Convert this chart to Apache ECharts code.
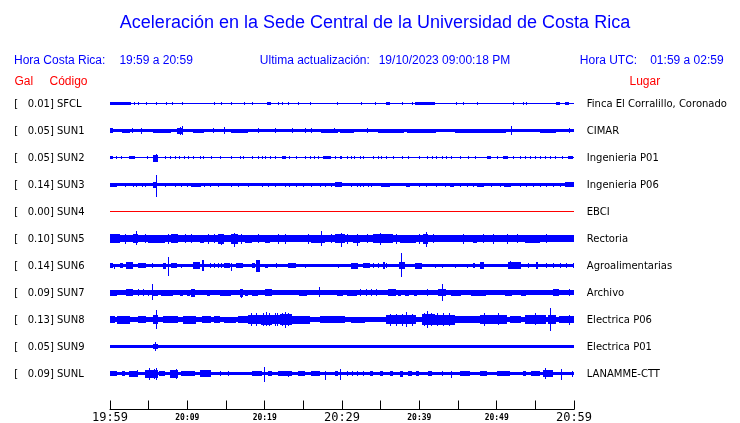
<!DOCTYPE html>
<html><head><meta charset="utf-8">
<script src="https://cdn.jsdelivr.net/npm/echarts@6/dist/echarts.min.js"></script>
<style>html,body{margin:0;padding:0;background:#fff}#c{width:740px;height:423px}</style>
</head><body><div id="c"></div>
<script>
// ---------------- DATA ----------------
const codes  = ['SFCL','SUN1','SUN2','SUN3','SUN4','SUN5','SUN6','SUN7','SUN8','SUN9','SUNL'];
const gal    = ['0.01','0.05','0.05','0.14','0.00','0.10','0.14','0.09','0.13','0.05','0.09'];
const places = ['Finca El Corralillo, Coronado','CIMAR','Ingenieria P01','Ingenieria P06','EBCI','Rectoria',
                'Agroalimentarias','Archivo','Electrica P06','Electrica P01','LANAMME-CTT'];
const timeLabels = ['19:59','20:09','20:19','20:29','20:39','20:49','20:59']; // every 10 min from 19:59
// background (noise) half-amplitude of each trace
const baseAmp = [0.65, 1.2, 0.65, 1.3, 0.5, 3.2, 1.5, 2.2, 2.7, 1.3, 1.5];
// events: [startMinute, endMinute, amplitudeUp, amplitudeDown]  (minutes after 19:59)
const evSFCL = [[0,2.7,1.5,1.5],[3.1,3.1,1.7,1.7],[3.6,3.6,1.7,1.7],[4.6,4.6,1.7,1.7],[5.9,5.9,1.7,1.7],[7.2,7.2,1.7,1.7],[8.0,8.0,1.7,1.7],[9.3,9.3,1.7,1.7],[13.4,13.4,1.7,1.7],[14.3,14.3,1.7,1.7],[15.7,15.7,1.7,1.7],[17.3,17.3,1.7,1.7],[18.4,18.4,1.7,1.7],[20.3,20.8,1.7,1.7],[21.7,21.7,1.7,1.7],[22.3,22.3,1.7,1.7],[23.0,23.0,1.7,1.7],[24.3,24.3,1.7,1.7],[25.9,25.9,1.7,1.7],[29.4,29.4,1.7,1.7],[32.5,32.5,1.7,1.7],[34.3,34.3,1.7,1.7],[35.7,36.2,1.7,1.7],[37.7,37.7,1.7,1.7],[39.0,39.0,1.7,1.7],[39.5,42.0,1.5,1.5],[44.8,44.8,1.7,1.7],[45.6,45.6,1.7,1.7],[47.4,47.4,1.7,1.7],[52.1,52.1,1.7,1.7],[53.4,53.4,1.7,1.7],[53.8,53.8,1.7,1.7],[57.7,58.2,1.7,1.7],[58.9,59.3,1.7,1.7]];
const evSUN1 = [[0,0.4,2.3,2.3],[1.5,2.6,2,2],[2.9,2.9,2.3,2.3],[4.0,4.0,2.7,3.7],[5.6,7.9,2,2],[8.7,9.5,3,3],[9.0,9.0,4,4.7],[9.3,9.3,4.3,4.3],[10.7,12.2,2,2],[13.3,13.3,2.5,2.5],[14.8,14.8,3.3,3.3],[15.7,17.8,2,2],[19.1,19.1,2.3,2.3],[21.3,21.3,2.3,2.3],[23.5,23.5,2.3,2.3],[25.2,25.2,2.3,2.3],[26.0,26.0,2.3,2.3],[27.3,29.5,2,2],[29.0,29.0,2.7,2.7],[29.7,31.6,2,2],[33.2,33.2,2.7,2.7],[34.6,38.0,2,2],[38.4,42.2,2,2],[44.6,51.2,2,2],[51.8,51.8,4.3,4.7],[55.6,57.7,2,2],[59.4,59.4,2.3,2.3]];
const evSUN2 = [[0,0.4,1.5,1.5],[0.8,0.8,1.7,1.7],[1.4,1.4,1.7,1.7],[2.5,3.2,1.5,1.5],[4.8,4.8,1.7,1.7],[5.6,6.2,2.7,4],[6.0,6.0,3.3,4.3],[7.1,7.1,1.7,1.7],[7.7,7.7,1.7,1.7],[8.4,8.4,1.7,1.7],[8.9,8.9,1.7,1.7],[9.6,9.6,1.7,1.7],[10.1,10.1,1.7,1.7],[10.7,10.7,1.7,1.7],[11.6,11.6,1.7,1.7],[12.0,12.0,1.7,1.7],[13.1,13.1,1.7,1.7],[14.2,14.2,1.7,1.7],[15.7,15.7,1.7,1.7],[16.8,16.8,1.7,1.7],[17.2,17.2,1.7,1.7],[18.3,18.3,1.7,1.7],[19.1,19.1,1.7,1.7],[19.6,19.6,1.7,1.7],[20.0,20.0,1.7,1.7],[20.7,20.7,1.7,1.7],[21.3,21.3,1.7,1.7],[22.2,22.8,1.5,1.5],[23.2,23.2,1.7,1.7],[24.1,24.1,1.7,1.7],[25.2,25.2,1.7,1.7],[25.9,25.9,1.7,1.7],[26.4,26.4,1.7,1.7],[26.9,26.9,1.7,1.7],[27.5,28.6,1.5,1.5],[29.1,29.1,1.7,1.7],[29.7,29.7,1.7,1.7],[29.9,29.9,1.7,1.7],[30.6,30.6,1.7,1.7],[31.2,31.2,1.7,1.7],[31.6,31.6,1.7,1.7],[32.3,32.3,1.7,1.7],[32.7,32.7,1.7,1.7],[34.0,34.0,1.7,1.7],[34.7,34.7,1.7,1.7],[35.1,35.1,1.7,1.7],[35.7,35.7,1.7,1.7],[36.6,36.6,1.7,1.7],[37.7,37.7,1.7,1.7],[38.5,38.5,1.7,1.7],[40.0,40.0,1.7,1.7],[41.0,41.0,1.7,1.7],[41.6,41.6,1.7,1.7],[42.2,42.2,1.7,1.7],[42.9,42.9,1.7,1.7],[43.5,43.5,1.7,1.7],[44.1,44.1,1.7,1.7],[45.2,45.2,1.7,1.7],[46.3,46.3,1.7,1.7],[47.2,47.2,1.7,1.7],[48.7,49.3,1.5,1.5],[50.0,50.0,1.7,1.7],[50.8,51.5,1.5,1.5],[52.1,52.1,1.7,1.7],[53.0,53.0,1.7,1.7],[53.6,53.6,1.7,1.7],[54.3,54.3,1.7,1.7],[54.9,54.9,1.7,1.7],[55.6,55.6,1.7,1.7],[56.2,56.2,1.7,1.7],[56.9,56.9,1.7,1.7],[57.5,57.5,1.7,1.7],[58.4,58.4,1.7,1.7],[59.2,59.9,1.5,1.5]];
const evSUN3 = [[0,0.9,2,2],[1.9,1.9,2,2.3],[3.0,3.0,2,2.3],[3.4,3.4,2,2.3],[4.1,4.1,2,2.3],[4.5,4.5,2,2.3],[5.6,6.1,3,3],[5.9,5.9,9.3,12.3],[7.1,7.1,2,2.3],[8.4,8.4,2,2.3],[9.2,9.2,2,2.3],[9.9,9.9,2,2.3],[10.5,11.8,2,2],[12.2,12.2,2,2.3],[12.9,12.9,2,2.3],[14.0,14.0,2,2.3],[15.7,15.7,2,2.3],[16.6,16.6,2,2.3],[17.8,17.8,2,2.3],[19.6,19.6,2,2.3],[20.4,20.4,2,2.3],[21.3,21.3,2,2.3],[22.6,22.6,2,2.3],[23.2,23.2,2,2.3],[24.1,24.1,2,2.3],[25.0,25.0,2,2.3],[26.0,26.0,2,2.3],[27.1,27.1,2,2.3],[27.8,27.8,2,2.3],[28.6,28.6,2,2.3],[29.1,30.0,2.5,2.5],[31.2,31.2,2,2.3],[31.9,31.9,2,2.3],[32.3,32.3,2,2.3],[32.7,32.7,2,2.3],[33.4,33.4,2,2.3],[33.8,33.8,2,2.3],[35.1,36.2,2,2],[38.3,38.8,2,2],[40.0,40.0,2,2.3],[40.9,40.9,2,2.3],[42.2,42.2,2,2.3],[43.3,43.3,2,2.3],[44.0,44.5,2,2],[45.2,45.2,2,2.3],[46.1,46.1,2,2.3],[46.9,46.9,2,2.3],[47.5,48.3,2,2],[49.3,49.3,2,2.3],[50.4,50.4,2,2.3],[51.0,51.9,2,2],[53.0,53.0,2,2.3],[53.8,53.8,2,2.3],[54.7,54.7,2,2.3],[55.6,55.6,2,2.3],[56.4,56.4,2,2.3],[57.3,57.3,2,2.3],[58.2,58.2,2,2.3],[58.9,60,2.5,2.5]];
const evSUN4 = [];
const evSUN5 = [[0,1.3,4.5,4.5],[1.9,1.9,4.5,5],[3.0,3.6,4.5,4.5],[3.3,3.3,8,6.3],[4.5,4.5,5,4.5],[4.9,7.1,4,4],[7.5,7.5,4.5,5.5],[7.9,8.8,4.5,4.5],[9.7,9.7,5,4.5],[10.5,10.5,4.5,4.5],[11.6,12.2,4,4],[12.7,12.7,4.5,5],[13.5,13.5,5,4.5],[14.0,14.8,4.5,5],[14.4,14.4,5,6.3],[15.6,16.5,5,5.5],[16.0,16.0,6,8.7],[17.0,17.0,4.5,5.5],[17.4,18.3,4,4],[19.1,19.1,5,4.5],[20.0,20.7,4,4],[21.7,21.7,4.5,5],[22.6,22.6,5,5],[23.5,25.2,3.8,3.8],[25.6,25.6,4.5,5],[26.0,27.8,4,4],[27.3,27.3,7.3,7.7],[28.6,28.6,5,4.5],[29.1,30.4,4.5,4.5],[29.9,29.9,6,8],[30.6,30.6,4.5,5],[31.4,32.3,4,4],[31.9,31.9,5,7.3],[33.2,33.2,5,4.5],[34.0,36.6,4.3,4.3],[34.9,34.9,6,6],[37.0,37.0,4.5,5],[37.5,39.6,4,4],[40.0,40.0,5,5],[40.5,41.1,4.5,5],[40.8,40.8,6.7,8.7],[41.8,41.8,4.5,4.5],[42.6,44.8,3.5,3.5],[45.6,45.6,4.5,5],[46.9,47.4,4,4],[48.2,48.2,4.5,4.5],[49.5,49.5,5,5],[51.3,51.3,4.5,5],[52.6,52.6,4.5,4.5],[53.6,55.6,4,4],[56.4,56.4,5,4.5],[57.3,59.9,3.6,3.6]];
const evSUN6 = [[0,0.4,2.5,2.5],[0.5,0.5,1.7,3.3],[1.3,1.7,2.5,2.5],[2.1,3.0,3.3,3.7],[3.6,4.7,2.5,2.5],[5.4,5.4,2.5,2.5],[6.9,7.3,3,3],[7.5,7.5,8.3,10],[7.9,8.6,2.5,2.5],[9.2,9.2,2,2],[10.7,11.6,3.3,3.3],[11.9,12.2,5.3,5.7],[12.9,12.9,2.5,2.5],[13.5,13.5,2.5,2.5],[14.0,14.0,2.5,2.5],[14.4,14.4,2.5,2.5],[14.8,15.5,2.5,2.5],[15.7,15.7,3,5],[16.3,17.2,2.3,2.3],[18.3,18.7,2.5,2.5],[18.9,19.4,5.3,6.7],[20.0,20.4,2,2],[21.5,21.5,2.5,2.5],[23.0,24.1,2.5,2.5],[25.2,25.2,2,2],[29.5,29.5,2,2],[31.2,32.1,3,3],[32.7,33.6,2.5,2.5],[34.0,34.0,2.5,2.5],[34.7,34.7,2.5,2.5],[35.3,35.5,4,3.3],[35.7,35.7,2.5,2.5],[37.4,38.1,3.5,3.5],[37.6,37.6,12.3,11],[39.4,40.3,3,3],[42.0,42.0,2,2],[42.9,42.9,2,2],[44.6,44.6,2,2],[46.1,46.1,2,2],[46.9,47.2,2.5,2.5],[47.8,48.4,3.3,3.3],[51.5,53.2,3.3,3.3],[51.7,51.7,5,3],[54.1,54.1,2.5,2.5],[55.1,55.4,3.3,3.3],[56.4,56.4,2.5,2.5],[57.3,57.3,2.5,2.5],[58.2,58.2,2.5,2.5],[59.0,59.0,2.5,2.5],[59.9,59.9,2.5,2.5]];
const evSUN7 = [[0,0.9,3,3],[1.0,2.1,2.8,2.8],[2.1,3.0,3.3,3.3],[3.6,3.6,3.3,3.3],[4.3,4.3,3.3,3.3],[4.9,5.1,3,3],[5.4,5.4,8.3,7],[5.6,6.2,3,3],[6.6,8.1,3,3],[9.0,9.5,3,3],[10.0,10.3,3,3],[10.5,11.0,3.5,4],[11.6,12.2,2.8,2.8],[12.5,12.9,3,3],[14.2,15.7,3,3],[16.8,17.2,3.5,4.5],[16.9,16.9,4,5.3],[17.5,17.8,3,3],[18.3,19.2,3,3],[20.0,20.9,3.5,3.5],[21.5,22.1,2.8,2.8],[23.2,23.6,2.8,2.8],[24.4,25.5,3,3],[27.0,27.0,5.3,4.3],[27.8,28.2,2.8,2.8],[29.3,30.1,3,3],[30.6,31.9,3,3],[32.3,32.3,3.3,3.3],[33.1,33.1,3.3,3.3],[33.7,33.7,3.3,3.3],[34.4,34.4,3.3,3.3],[35.9,37.0,3.2,3.2],[37.3,37.6,3,3],[38.2,38.6,3,3],[39.3,39.7,3,3],[41.0,41.0,3.5,3.5],[42.4,43.5,3.5,3.5],[42.9,42.9,8.3,8.3],[44.1,45.4,3,3],[46.7,48.6,3,3],[51.1,52.0,3,3],[53.2,53.8,3,3],[55.0,55.6,2.8,2.8],[57.3,58.1,3.5,3.5],[59.4,59.4,3.3,3.3]];
const evSUN8 = [[0,0.6,3.3,3.3],[0.9,2.6,4,4],[3.6,4.7,3.2,3.2],[5.6,6.2,4.5,4.5],[5.9,5.9,10,9.3],[6.9,8.8,3.3,3.3],[9.4,11.1,4,4],[11.9,13.1,3.2,3.2],[13.5,14.2,3.2,3.2],[14.8,16.3,3,3],[16.6,17.8,3.5,3.5],[17.8,19.5,4.3,4.3],[18.2,18.2,6.5,6.5],[18.9,18.9,6.5,6],[19.5,21.0,5,5],[19.8,19.8,6.5,6.5],[20.2,20.2,8,6],[20.6,20.6,6.5,6.5],[21.0,22.0,4.5,4.5],[21.3,21.3,6.7,6],[21.6,21.6,6.5,6.5],[22.0,23.5,5.3,5.3],[22.2,22.2,6.5,6.5],[22.6,22.6,8,8.7],[23.0,23.0,6.5,6.5],[23.5,25.8,4,4],[27.1,30.4,3.3,3.3],[31.2,33.0,3,3],[35.7,39.6,4.5,4.5],[36.2,36.2,6,6],[37.0,37.0,6,6],[37.8,37.8,6,6],[38.3,38.3,7.7,7.3],[39.0,39.0,6,6],[40.3,42.0,5.5,5.5],[40.6,40.6,6.5,6.5],[41.0,41.0,8.3,8],[41.5,41.5,6.5,6.5],[42.0,44.6,4.7,5],[42.3,42.3,6.5,6.5],[43.0,43.0,6.5,6.5],[43.8,43.8,6.5,6.5],[44.6,47.8,3.3,3.3],[47.8,51.3,4.3,4.3],[48.3,48.3,7,6.7],[50.2,50.2,7,5],[51.7,53.2,3.3,3.3],[53.6,56.4,4.3,4.3],[54.9,54.9,6.3,5],[56.6,57.7,4.7,4.7],[56.9,56.9,11.3,11.3],[58.1,60,3.5,3.5],[59.4,59.4,5,5]];
const evSUN9 = [[0,1.3,1.7,1.7],[5.6,6.2,2.5,2.5],[5.8,5.8,4.3,4.3]];
const evSUNL = [[0,0.9,2.3,2.3],[1.5,1.9,2.7,2.7],[2.5,3.6,3,3],[3.5,3.5,3.3,3.7],[4.5,6.2,4,4],[5.1,5.1,6,6.7],[5.7,5.7,5,5],[6.0,6.0,5.7,6.3],[6.4,7.1,2.7,2.7],[7.7,8.8,4,4],[8.5,8.5,4.7,5],[9.2,11.0,2.7,2.7],[11.6,13.1,3.3,3.3],[14.2,14.2,2.7,2.7],[15.3,15.3,2.7,2.7],[18.3,19.6,2.5,2.5],[19.9,19.9,6.3,8.7],[20.4,20.9,2.5,2.5],[21.7,23.5,2.7,2.7],[23.0,23.0,2.7,3.7],[24.3,25.2,2.5,2.5],[26.0,27.1,2.7,2.7],[27.8,27.8,2.5,6.3],[29.1,29.5,2.7,2.7],[29.7,29.9,5,6],[30.6,30.6,2.5,2.5],[31.3,31.3,2.5,2.5],[32.0,32.0,2.5,2.5],[32.7,32.7,2.5,2.5],[33.6,34.0,2.5,2.5],[34.9,35.3,2.7,2.7],[36.2,36.6,2.7,2.7],[37.5,37.9,3,3.5],[38.5,39.0,2.7,2.7],[39.6,40.0,2.5,2.5],[41.1,41.6,2.5,2.5],[42.9,42.9,2.5,2.5],[44.1,44.1,2.5,4.3],[45.2,46.5,2.5,2.5],[47.8,48.7,2.5,2.5],[50.0,51.7,2.5,2.5],[53.4,53.8,2.7,2.7],[54.5,55.6,2.7,2.7],[56.0,57.3,3.3,3.3],[56.2,56.2,5.3,5],[56.8,56.8,3.7,3.7],[58.3,58.3,5,6],[59.7,59.7,3,3]];
const events = [evSFCL, evSUN1, evSUN2, evSUN3, evSUN4, evSUN5, evSUN6, evSUN7, evSUN8, evSUN9, evSUNL];

// ---------------- CHART ----------------
const BLUE = '#0000ff', RED = '#ff0000';
const traceColors = codes.map(c => c === 'SUN4' ? RED : BLUE);
const ROW = 27;                       // vertical spacing between traces, in amplitude units
const nRows = codes.length;
const rowValue = i => (nRows - 1 - i) * ROW;

const chart = echarts.init(document.getElementById('c'), null, {renderer: 'canvas'});

const series = codes.map((code, i) => ({
  type: 'custom',
  name: code,
  coordinateSystem: 'cartesian2d',
  silent: true,
  animation: false,
  clip: false,
  encode: {x: [0, 1], y: 2},
  data: [[0, 60, baseAmp[i], baseAmp[i]]].concat(events[i]),
  renderItem: function (params, api) {
    const t0 = api.value(0), t1 = api.value(1), up = api.value(2), dn = api.value(3);
    const yc = rowValue(i);
    const a = api.coord([t0, yc + up]);
    const b = api.coord([t1, yc - dn]);
    let x0 = Math.round(a[0]), x1 = Math.round(b[0]);
    if (x1 - x0 < 1) x1 = x0 + 1;
    let y0 = Math.round(a[1]), y1 = Math.round(b[1]);
    if (y1 - y0 < 1) y1 = y0 + 1;
    return {type: 'rect', shape: {x: x0, y: y0, width: x1 - x0, height: y1 - y0},
            style: {fill: traceColors[i]}};
  }
}));

chart.setOption({
  backgroundColor: '#ffffff',
  animation: false,
  grid: {left: 110, right: 166, top: 90, bottom: 13.5, containLabel: false, outerBoundsMode: 'none'},
  xAxis: {
    type: 'value', min: 0, max: 60, interval: 5,
    axisLine: {show: true, onZero: false, lineStyle: {color: '#000', width: 1}},
    axisTick: {show: true, inside: true, length: 9, lineStyle: {color: '#000', width: 1}},
    splitLine: {show: false},
    axisLabel: {
      show: true, margin: 1, showMinLabel: true, showMaxLabel: true, hideOverlap: false,
      formatter: function (v) {
        if (v % 10 !== 0) return '';
        const k = v / 10;
        return (k % 3 === 0 ? '{b|' : '{s|') + timeLabels[k] + '}';
      },
      rich: {
        b: {fontFamily: 'DejaVu Sans Mono', fontSize: 12, color: '#000', lineHeight: 14},
        s: {fontFamily: 'DejaVu Sans Mono', fontWeight: 'bold', fontSize: 8, color: '#000', lineHeight: 14}
      }
    }
  },
  yAxis: {type: 'value', min: -36, max: 283.5, show: false},
  series: series
});

function txt(text, x, y, font, fill, align) {
  return {type: 'text', x: x, y: y, silent: true,
    style: {text: text, font: font, fill: fill, align: align || 'left', verticalAlign: 'middle',
            textAlign: align || 'left', textVerticalAlign: 'middle'}};
}
const HF = '12px "Liberation Sans"';
const LF = '10px "DejaVu Sans"';
const g = [
  txt('Aceleración en la Sede Central de la Universidad de Costa Rica', 375, 23.5, '18px "Liberation Sans"', BLUE, 'center'),
  txt('Hora Costa Rica:', 14, 61, HF, BLUE),
  txt('19:59 a 20:59', 119.4, 61, HF, BLUE),
  txt('Ultima actualización:', 259.8, 61, HF, BLUE),
  txt('19/10/2023 09:00:18 PM', 378.7, 61, HF, BLUE),
  txt('Hora UTC:', 579.8, 61, HF, BLUE),
  txt('01:59 a 02:59', 650.2, 61, HF, BLUE),
  txt('Gal', 14.5, 81.3, HF, RED),
  txt('Código', 49.5, 81.3, HF, RED),
  txt('Lugar', 629.5, 81.3, HF, RED)
];
codes.forEach((code, i) => {
  const py = chart.convertToPixel({gridIndex: 0}, [0, rowValue(i)])[1];
  g.push(txt('[   ' + gal[i] + '] ' + code, 14.2, py + 0.5, LF, '#000'));
  g.push(txt(places[i], 586.8, py + 0.5, LF, '#000'));
});
chart.setOption({graphic: g});
</script>
</body></html>
